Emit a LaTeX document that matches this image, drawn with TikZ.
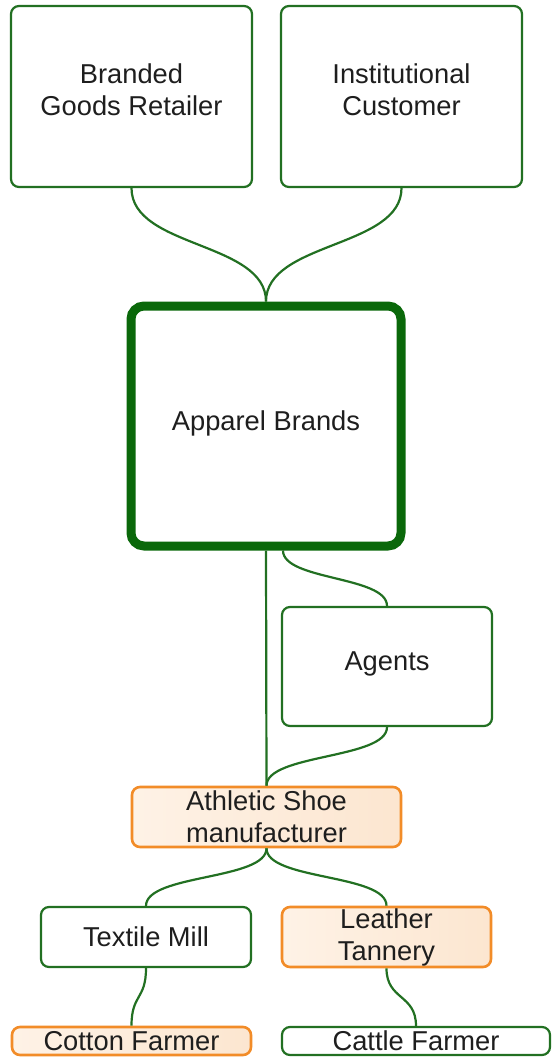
\documentclass[tikz,border=0pt]{standalone}
\usepackage{fontspec}
\setmainfont{Liberation Sans}
\definecolor{leaf}{RGB}{34,112,34}
\definecolor{deepleaf}{RGB}{10,104,10}
\definecolor{amber}{RGB}{242,140,40}
\definecolor{peachL}{RGB}{254,242,230}
\definecolor{peachR}{RGB}{252,230,208}
\definecolor{ink}{RGB}{30,30,30}
\tikzset{
  box/.style={draw=leaf, line width=2.2pt, rounded corners=8pt, fill=white,
    inner sep=0pt, align=center, text=ink,
    font=\fontsize{27.3}{32}\selectfont},
  hub/.style={box, draw=deepleaf, line width=9pt, rounded corners=13pt},
  warm/.style={box, draw=amber, line width=2.6pt, shading=axis,
    left color=peachL, right color=peachR, shading angle=90},
  link/.style={draw=leaf, line width=2.2pt}
}
\begin{document}
\begin{tikzpicture}[x=1pt,y=-1pt]
\useasboundingbox (0,0) rectangle (554,1058);
% upper tier
\node[box, minimum width=241pt, minimum height=181pt, text depth=14pt] (retail) at (131.5,96.5) {Branded\\Goods Retailer};
\node[box, minimum width=241pt, minimum height=181pt, text depth=14pt] (inst) at (401.5,96.5) {Institutional\\Customer};
% central brand node
\node[hub, minimum width=270pt, minimum height=240pt, text depth=10pt] (brand) at (266,426) {Apparel Brands};
% sourcing chain
\node[box, minimum width=210pt, minimum height=119pt, text depth=10pt] (agent) at (387,666.5) {Agents};
\node[warm, minimum width=269pt, minimum height=60pt] (shoe) at (266.5,817) {Athletic Shoe\\manufacturer};
\node[box, minimum width=210pt, minimum height=60pt] (mill) at (146,937) {Textile Mill};
\node[warm, minimum width=209pt, minimum height=60pt] (tan) at (386.5,937) {Leather\\Tannery};
\node[warm, minimum width=239pt, minimum height=28pt] (cotton) at (131.5,1041) {Cotton Farmer};
\node[box, minimum width=268pt, minimum height=28pt] (cattle) at (416,1041) {Cattle Farmer};
% connectors
\begin{scope}[on background layer/.try]
\draw[link] (retail.south) .. controls +(0,60) and +(0,-60) .. (brand.north);
\draw[link] (inst.south) .. controls +(0,60) and +(0,-60) .. (brand.north);
\draw[link] (brand.south) -- (shoe.north);
\draw[link] ([xshift=17pt]brand.south) .. controls +(0,30) and +(0,-30) .. (agent.north);
\draw[link] (agent.south) .. controls +(0,32) and +(0,-32) .. (shoe.north);
\draw[link] (shoe.south) .. controls +(0,32) and +(0,-32) .. (mill.north);
\draw[link] (shoe.south) .. controls +(0,32) and +(0,-32) .. (tan.north);
\draw[link] (mill.south) .. controls +(0,32) and +(0,-32) .. (cotton.north);
\draw[link] (tan.south) .. controls +(0,32) and +(0,-32) .. (cattle.north);
\end{scope}
\end{tikzpicture}
\end{document}
